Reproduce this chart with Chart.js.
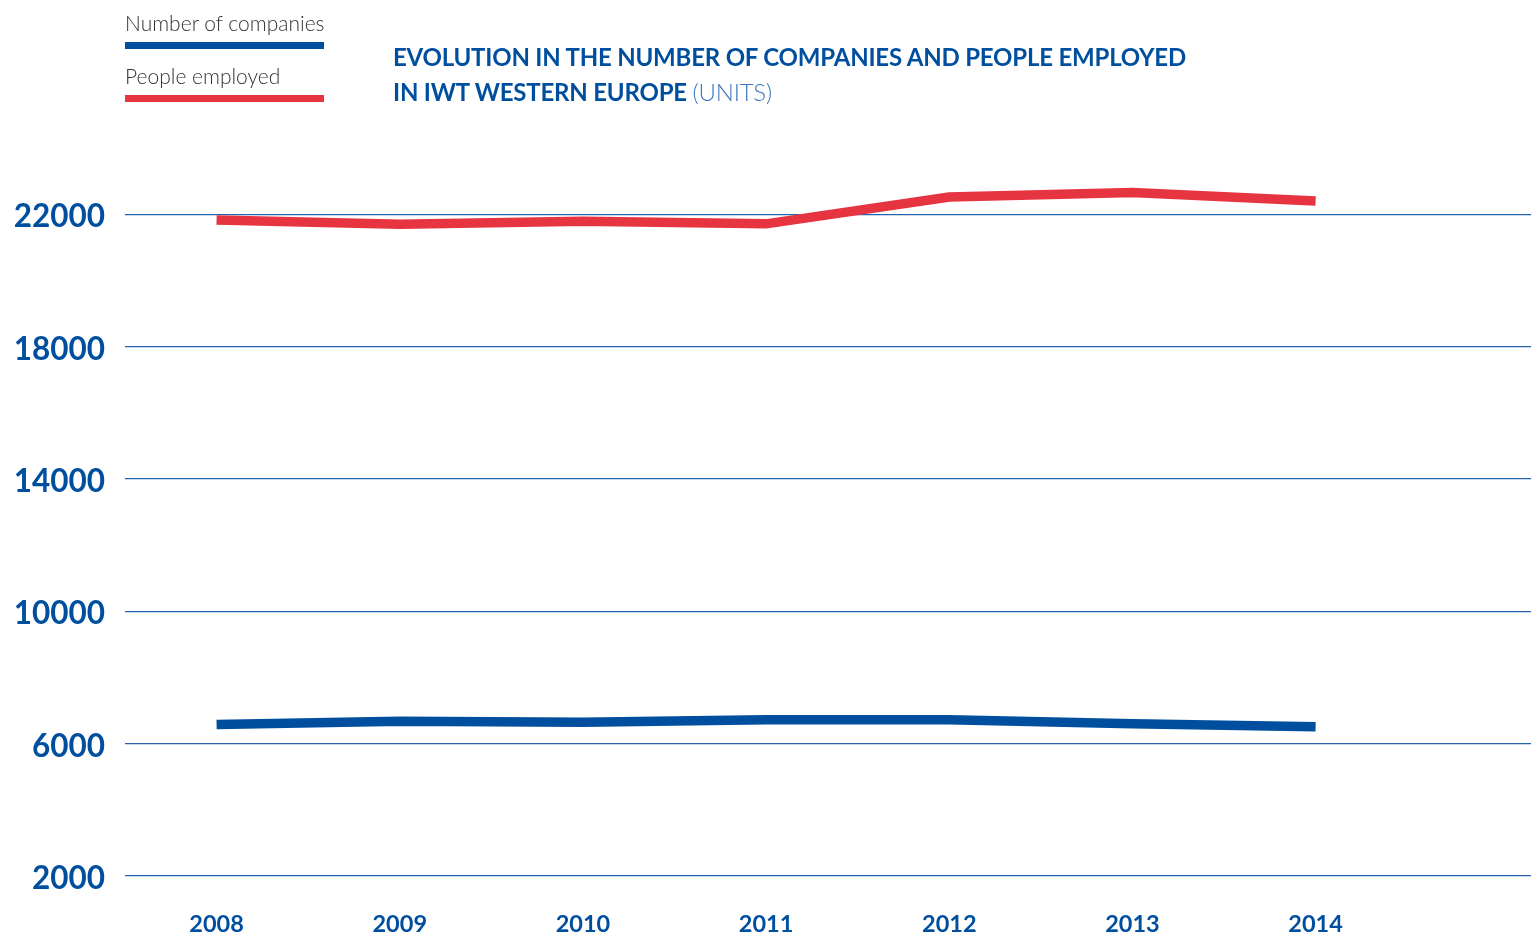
<!DOCTYPE html>
<html>
<head>
<meta charset="utf-8">
<script src="https://cdn.jsdelivr.net/npm/chart.js@4/dist/chart.umd.min.js"></script>
<style>
  html, body { margin: 0; padding: 0; background: #ffffff; }
  #wrap { position: relative; width: 1531px; height: 933px; overflow: hidden; font-family: Lato, "Open Sans", sans-serif; }
  #chartBox { position: absolute; left: 0; top: 0; width: 1531px; height: 933px; }
  .leg { position: absolute; left: 125px; font-weight: 300; font-size: 21px; color: #333333; line-height: 1; }
  .legLine { position: absolute; left: 125px; width: 199px; height: 7px; }
  #title { position: absolute; left: 393px; top: 39px; color: #004f9f; font-weight: 700; font-size: 24px; line-height: 35px; letter-spacing: -0.2px; }
  #title .light { font-weight: 300; color: #3f78bd; }
</style>
</head>
<body>
<div id="wrap">
  <div id="chartBox"><canvas id="c"></canvas></div>
  <div class="leg" style="top:12px;">Number of companies</div>
  <div class="legLine" style="top:42px;background:#004f9f;"></div>
  <div class="leg" style="top:65px;">People employed</div>
  <div class="legLine" style="top:95px;background:#e63441;"></div>
  <div id="title">EVOLUTION IN THE NUMBER OF COMPANIES AND PEOPLE EMPLOYED<br>IN IWT WESTERN EUROPE <span class="light">(UNITS)</span></div>
</div>
<script>
const years = [2008, 2009, 2010, 2011, 2012, 2013, 2014];
const numberOfCompanies = [6580, 6680, 6650, 6720, 6720, 6600, 6510];
const peopleEmployed = [21830, 21700, 21790, 21710, 22520, 22660, 22400];
const yTickValues = [2000, 6000, 10000, 14000, 18000, 22000];
const seriesNames = ['Number of companies', 'People employed'];

const BLUE = '#004f9f';
const RED = '#e63441';

const toPoints = (vals) => years.map((y, i) => ({ x: y, y: vals[i] }));

new Chart(document.getElementById('c'), {
  type: 'line',
  data: {
    datasets: [
      {
        label: seriesNames[1],
        data: toPoints(peopleEmployed),
        borderColor: RED,
        borderWidth: 9.5,
        borderCapStyle: 'butt',
        borderJoinStyle: 'miter',
        pointRadius: 0,
        tension: 0,
        fill: false
      },
      {
        label: seriesNames[0],
        data: toPoints(numberOfCompanies),
        borderColor: BLUE,
        borderWidth: 9.5,
        borderCapStyle: 'butt',
        borderJoinStyle: 'miter',
        pointRadius: 0,
        tension: 0,
        fill: false
      }
    ]
  },
  options: {
    responsive: true,
    maintainAspectRatio: false,
    animation: false,
    layout: { padding: { top: 115, left: 0, right: 0, bottom: 0 } },
    plugins: { legend: { display: false }, title: { display: false }, tooltip: { enabled: false } },
    scales: {
      x: {
        type: 'linear',
        min: 2007.5,
        max: 2015.176,
        afterBuildTicks: (scale) => { scale.ticks = years.map(v => ({ value: v })); },
        afterFit: (scale) => { scale.height = 57; },
        grid: { display: false, drawTicks: false },
        border: { display: false },
        ticks: {
          color: BLUE,
          padding: 34,
          maxRotation: 0,
          autoSkip: false,
          font: { family: 'Lato', weight: 'bold', size: 23.5 },
          callback: (v) => String(v)
        }
      },
      y: {
        type: 'linear',
        min: 2000,
        max: 25000,
        afterBuildTicks: (scale) => { scale.ticks = yTickValues.map(v => ({ value: v })); },
        afterFit: (scale) => { scale.width = 125; },
        grid: { color: '#2563ad', lineWidth: 1.3, drawTicks: false },
        border: { display: false },
        ticks: {
          color: BLUE,
          padding: 20,
          labelOffset: 3,
          font: { family: 'Lato', weight: 'bold', size: 31.5 },
          callback: (v) => String(v)
        }
      }
    }
  }
});
</script>
</body>
</html>
